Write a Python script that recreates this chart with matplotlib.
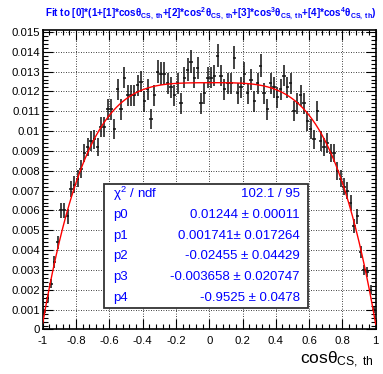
import numpy as np
import matplotlib
matplotlib.use("Agg")
import matplotlib.pyplot as plt
from matplotlib.ticker import MultipleLocator, FixedLocator
from matplotlib.patches import Rectangle

plt.rcParams['font.family'] = ['Liberation Sans', 'DejaVu Sans']
plt.rcParams['mathtext.fontset'] = 'custom'
plt.rcParams['mathtext.rm'] = 'Liberation Sans'
plt.rcParams['mathtext.it'] = 'Liberation Sans'
plt.rcParams['mathtext.bf'] = 'Liberation Sans:bold'

# ---- data ----
bin_edges_lo = -1.0
bin_edges_hi = 1.0
n_bins = 100
values = [
    0.0009, 0.0016, 0.0023, 0.0034, 0.0044, 0.0060, 0.0060, 0.0057, 0.0071, 0.0073,
    0.0076, 0.0081, 0.0089, 0.0092, 0.0095, 0.0096, 0.0092, 0.0102, 0.0102, 0.0111,
    0.0111, 0.0101, 0.0121, 0.0111, 0.0127, 0.0118, 0.0118, 0.0118, 0.0123, 0.0125,
    0.0115, 0.0121, 0.0106, 0.0118, 0.0130, 0.0129, 0.0129, 0.0124, 0.0122, 0.0118,
    0.0124, 0.0114, 0.0127, 0.0131, 0.0135, 0.0127, 0.0132, 0.0114, 0.0119, 0.0127,
    0.0127, 0.0128, 0.0138, 0.0128, 0.0121, 0.0124, 0.0124, 0.0137, 0.0119, 0.0122,
    0.0129, 0.0119, 0.0126, 0.0115, 0.0124, 0.0133, 0.0119, 0.0111, 0.0124, 0.0122,
    0.0117, 0.0121, 0.0128, 0.0122, 0.0124, 0.0110, 0.0114, 0.0118, 0.0114, 0.0105,
    0.0101, 0.0096, 0.0110, 0.0095, 0.0092, 0.0094, 0.0089, 0.0089, 0.0080, 0.0076,
    0.0072, 0.0070, 0.0064, 0.0052, 0.0057, 0.0039, 0.0030, 0.0029, 0.0020, 0.0010,
]
errors = [
    0.00015, 0.00020, 0.00023, 0.00029, 0.00033, 0.00038, 0.00038, 0.00037, 0.00041, 0.00042,
    0.00043, 0.00044, 0.00046, 0.00047, 0.00048, 0.00048, 0.00047, 0.00049, 0.00049, 0.00052,
    0.00052, 0.00049, 0.00054, 0.00052, 0.00055, 0.00053, 0.00053, 0.00053, 0.00054, 0.00055,
    0.00053, 0.00054, 0.00050, 0.00053, 0.00056, 0.00056, 0.00056, 0.00055, 0.00054, 0.00053,
    0.00055, 0.00052, 0.00055, 0.00056, 0.00057, 0.00055, 0.00056, 0.00052, 0.00053, 0.00055,
    0.00055, 0.00055, 0.00058, 0.00055, 0.00054, 0.00055, 0.00055, 0.00057, 0.00053, 0.00054,
    0.00056, 0.00053, 0.00055, 0.00053, 0.00055, 0.00057, 0.00053, 0.00052, 0.00055, 0.00054,
    0.00053, 0.00054, 0.00055, 0.00054, 0.00055, 0.00051, 0.00052, 0.00053, 0.00052, 0.00050,
    0.00049, 0.00048, 0.00051, 0.00048, 0.00047, 0.00048, 0.00046, 0.00046, 0.00044, 0.00043,
    0.00042, 0.00041, 0.00039, 0.00035, 0.00037, 0.00031, 0.00027, 0.00026, 0.00022, 0.00015,
]
fit_params = [0.01244, 0.001741, -0.02455, -0.003658, -0.9525]
stat_labels = [r'$\chi^{2}$ / ndf', 'p0', 'p1', 'p2', 'p3', 'p4']
stat_values = ['102.1 / 95', '0.01244 \u00b1 0.00011', '0.001741\u00b1 0.017264',
               '-0.02455 \u00b1 0.04429', '-0.003658 \u00b1 0.020747', '-0.9525 \u00b1 0.0478']
x_ticks = [-1, -0.8, -0.6, -0.4, -0.2, 0, 0.2, 0.4, 0.6, 0.8, 1]
x_tick_labels = ['-1', '-0.8', '-0.6', '-0.4', '-0.2', '0', '0.2', '0.4', '0.6', '0.8', '1']
y_ticks = [i * 0.001 for i in range(16)]
y_tick_labels = ['0'] + ['%g' % round(i * 0.001, 3) for i in range(1, 16)]

# ---- figure ----
fig = plt.figure(figsize=(3.83, 3.74), dpi=100)
ax = fig.add_axes([0.1115, 0.119, 0.8695, 0.801])

width = (bin_edges_hi - bin_edges_lo) / n_bins
centers = bin_edges_lo + width * (np.arange(n_bins) + 0.5)
ax.errorbar(centers, values, yerr=errors, xerr=width / 2, fmt='none',
            ecolor='#111111', elinewidth=1.1, capsize=0, zorder=3)

xx = np.linspace(-1, 1, 400)
p = fit_params
yy = p[0] * (1 + p[1] * xx + p[2] * xx**2 + p[3] * xx**3 + p[4] * xx**4)
ax.plot(xx, yy, color='red', lw=1.0, zorder=4)

ax.set_xlim(-1, 1)
ax.set_ylim(0, 0.0151)
ax.xaxis.set_major_locator(FixedLocator(x_ticks))
ax.set_xticklabels(x_tick_labels)
ax.yaxis.set_major_locator(FixedLocator(y_ticks))
ax.set_yticklabels(y_tick_labels)
ax.xaxis.set_minor_locator(MultipleLocator(0.04))
ax.yaxis.set_minor_locator(MultipleLocator(0.0002))
ax.tick_params(which='both', direction='in', top=True, right=True, labelsize=8.2, width=0.8)
ax.tick_params(which='major', length=7)
ax.tick_params(which='minor', length=3.5)
ax.tick_params(axis='x', pad=5)
ax.tick_params(axis='y', pad=2)
ax.grid(True, which='major', color='black', linestyle=(0, (1, 2)), linewidth=0.6)
for s in ax.spines.values():
    s.set_linewidth(1.2)

fig.text(0.975, 0.012, r'cos$\theta_{\rm CS,\ th}$', ha='right', va='bottom', fontsize=12.5)

title = ('Fit to [0]*(1+[1]*cos$\\mathbf{\\theta}_{\\mathbf{CS,\\ th}}$'
         '+[2]*cos$^{\\mathbf{2}}\\mathbf{\\theta}_{\\mathbf{CS,\\ th}}$'
         '+[3]*cos$^{\\mathbf{3}}\\mathbf{\\theta}_{\\mathbf{CS,\\ th}}$'
         '+[4]*cos$^{\\mathbf{4}}\\mathbf{\\theta}_{\\mathbf{CS,\\ th}}$)')
fig.text(0.551, 0.962, title, ha='center', va='center', fontsize=7.1,
         fontweight='bold', color='#0000ff')

# stats box (figure pixel coords)
W, H = 383.0, 374.0
bx0, by0, bx1, by1 = 104, 184, 308, 308
fig.patches.append(Rectangle((bx0 / W, 1 - by1 / H), (bx1 - bx0) / W, (by1 - by0) / H,
                             transform=fig.transFigure, facecolor='white',
                             edgecolor='#333333', lw=1.3, zorder=10))
row_h = (by1 - by0) / 6.0
for k, (lab, val) in enumerate(zip(stat_labels, stat_values)):
    yc = by0 + row_h * (k + 0.5)
    fig.text(113 / W, 1 - yc / H, lab, ha='left', va='center', fontsize=9.5,
             color='#0000ff', zorder=11)
    fig.text(300 / W, 1 - yc / H, val, ha='right', va='center', fontsize=9.5,
             color='#0000ff', zorder=11)

fig.savefig('out.png', dpi=100)
